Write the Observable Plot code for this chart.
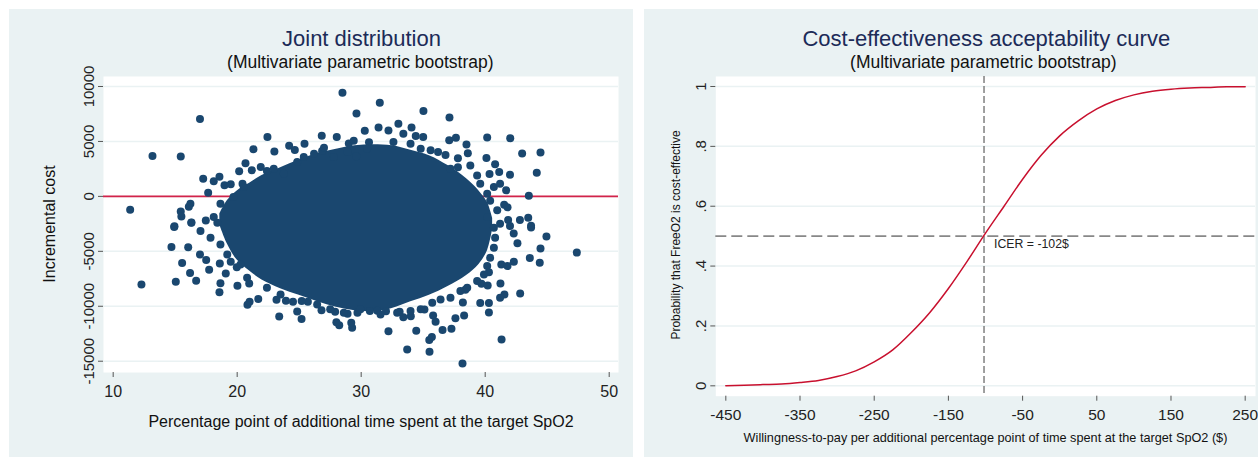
<!DOCTYPE html>
<html><head><meta charset="utf-8">
<script src="https://cdn.jsdelivr.net/npm/d3@7"></script>
<script src="https://cdn.jsdelivr.net/npm/@observablehq/plot@0.6"></script>
<style>
html,body{margin:0;padding:0;background:#fff;overflow:hidden;width:1258px;height:459px;}
body{position:relative;font-family:"Liberation Sans",Arial,sans-serif;}
.panel{position:absolute;background:#eaf2f3;overflow:visible;}
.panel svg{position:absolute;left:0;top:0;overflow:visible;}
.t{position:absolute;white-space:nowrap;transform:translate(-50%,-50%);line-height:1;}
.r{transform:translate(-50%,-50%) rotate(-90deg);}
</style></head>
<body>
<div id="pl" class="panel" style="left:9px;top:9px;width:624px;height:448px;"></div>
<div id="pr" class="panel" style="left:644px;top:9px;width:614px;height:448px;"></div>

<div class="t" style="left:361.5px;top:38.7px;font-size:22px;color:#1c2b58;">Joint distribution</div>
<div class="t" style="left:360.3px;top:62.5px;font-size:17.5px;color:#111;">(Multivariate parametric bootstrap)</div>
<div class="t" style="left:361px;top:422px;font-size:16px;color:#111;">Percentage point of additional time spent at the target SpO2</div>
<div class="t r" style="left:50px;top:224px;font-size:16px;color:#111;">Incremental cost</div>

<div class="t" style="left:986.3px;top:38.5px;font-size:22px;color:#1c2b58;">Cost-effectiveness acceptability curve</div>
<div class="t" style="left:983.3px;top:62.5px;font-size:17.5px;color:#111;">(Multivariate parametric bootstrap)</div>
<div class="t" style="left:985.5px;top:438px;font-size:12.7px;color:#111;">Willingness-to-pay per additional percentage point of time spent at the target SpO2 ($)</div>
<div class="t r" style="left:676px;top:235px;font-size:12px;color:#111;">Probability that FreeO2 is cost-effective</div>

<script>
// ---------- Left panel data: bootstrap replicates ----------
const xTicksL = [10, 20, 30, 40, 50];
const yTicksL = [10000, 5000, 0, -5000, -10000, -15000];
// dense core of the cloud: lower/upper envelope by effect
const coreX    = [18.6, 19.2, 20.0, 21.0, 22.0, 23.5, 25.0, 26.5, 28.0, 29.5, 31.0, 32.5, 34.0, 35.5, 37.0, 38.5, 39.5, 40.2, 40.6];
const coreHigh = [-1600, -400, 500, 1200, 1900, 2600, 3300, 3900, 4300, 4600, 4700, 4600, 4200, 3700, 2800, 1600, 500, -600, -2000];
const coreLow  = [-2600, -4300, -5800, -6800, -7600, -8400, -9000, -9600, -10100, -10400, -10500, -10200, -9600, -9000, -8200, -7200, -6200, -4900, -3000];
// individually visible replicates
const ptsX = [28.49,29.62,17.0,13.17,15.45,11.37,22.44,21.31,23.0,26.82,28.03,24.19,25.43,24.65,20.67,20.16,21.18,17.26,18.57,18.11,18.98,19.48,20.43,17.66,16.23,16.1,15.45,15.5,16.31,14.94,17.47,26.85,27.0,29.0,29.4,29.6,
  31.5,35.02,37.12,40.16,42.02,42.98,44.46,44.16,43.52,42.0,37.64,37.1,38.49,33.0,34.06,30.29,31.4,32.2,40.8,40.1,38.6,37.8,36.8,41.13,40.35,41.69,41.53,41.8,41.85,42.8,43.47,43.7,35.0,34.4,
  12.28,15.05,16.69,16.2,15.56,14.7,14.92,16.3,17.74,19.08,18.65,18.57,20.02,20.83,21.0,23.39,25.19,24.84,28.23,28.0,29.27,29.2,16.05,17.0,17.5,18.6,19.48,19.97,20.97,21.7,23.17,23.93,24.5,25.7,26.8,27.9,28.9,
  47.39,44.46,44.94,43.7,44.4,43.6,42.6,42.31,42.82,41.23,41.55,41.2,40.3,41.32,38.17,35.51,33.71,35.49,35.7,32.2,34.44,36.56,37.28,38.3,38.2,37.6,35.8,36.0,40.3,39.6,39.7,40.2,41.3,41.8,40.3,38.4,35.1,34.0,33.4,33.1,32.0,31.3,42.0,42.3,
  30.63,30.48,32.6,33.4,33.98,34.8,35.6,36.2,37.2,37.8,38.8,39.35,39.6,40.16,40.7,41.2,40.4,40.97,40.16,41.2,
  21.9,22.4,22.95,23.76,24.84,25.37,26.2,27.8,28.9,20.53,19.7,18.65,18.11,18.4,
  17.04,17.85,18.65,19.2,20.27,20.8,22.4,23.5,25.2,26.45,27.5,28.6,29.7,
  29.94,30.7,31.56,32.9,33.98,34.8,35.73,36.4,37.2,38.0,38.55,39.35,39.9,40.16,40.4,40.7,40.8,40.7];
const ptsY = [9442,7550,7038,3683,3620,-1225,5393,4296,4076,5511,5393,4597,4780,4232,3016,2285,2376,1609,1791,1371,1005,1097,1152,329,-676,-950,-1371,-1828,-2376,-2715,-2194,4140,4420,4808,5058,3650,
  8527,7769,7184,5356,5301,3894,3985,2157,55,1974,5329,5100,4716,6608,6270,5968,6270,6000,2925,3500,3930,3480,3770,2221,2040,548,-768,-1000,-2139,-2139,-1956,-2670,5400,5500,
  -8016,-7769,-7678,-6983,-6069,-4607,-2779,-2400,-6673,-7010,-7897,-8720,-8135,-9871,-9600,-10941,-11151,-10484,-11736,-11450,-11946,-11500,-4634,-5300,-5800,-6100,-5940,-6460,-7924,-9350,-9400,-9490,-9600,-9600,-10360,-10500,-10670,
  -5118,-4753,-3656,-2833,-6032,-5600,-4268,-5941,-8838,-7924,-8930,-9230,-10575,-13015,-15209,-14139,-13929,-13070,-12800,-12284,-12220,-12156,-12037,-10849,-9650,-11100,-10850,-11400,-9700,-9700,-7950,-8100,-6200,-6340,-6900,-8500,-10300,-10900,-11000,-10500,-10450,-10400,-2700,-3380,
  4932,4330,4940,5700,4790,4330,4190,4050,2510,2650,2820,1910,1150,240,850,1150,-400,-1270,-1880,-2490,
  2670,2300,2510,2060,3120,3580,3890,3580,4040,850,-60,-670,-1880,-2400,
  -3160,-3770,-4370,-5280,-6190,-7410,-8320,-8920,-9530,-9830,-10280,-10590,-10590,
  -10280,-10430,-10740,-10590,-10440,-10280,-9680,-9380,-9230,-8620,-8320,-7710,-7100,-6340,-5590,-4680,-3770,-2860];

// ---------- Right panel data: CEAC ----------
const wtp  = [-450,-425,-400,-375,-350,-325,-300,-275,-250,-225,-200,-175,-150,-125,-100,-75,-50,-25,0,25,50,75,100,125,150,175,200,225,250];
const prob = [0.000,0.002,0.004,0.006,0.011,0.018,0.031,0.050,0.080,0.120,0.178,0.245,0.325,0.415,0.510,0.600,0.690,0.770,0.835,0.885,0.925,0.953,0.972,0.984,0.991,0.995,0.997,0.999,0.999];
const icer = -102;
const icerLabel = "ICER = -102$";
const xTicksR = [-450,-350,-250,-150,-50,50,150,250];
const yTicksR = [0, 0.2, 0.4, 0.6, 0.8, 1];
const yTickLabelsR = ["0", ".2", ".4", ".6", ".8", "1"];

const navy = "#1a476f";
const grid = "#eaf2f3";
const axisCol = "#555";
const font = '"Liberation Sans", Arial, sans-serif';

const core = coreX.map((x, i) => ({x, lo: coreLow[i], hi: coreHigh[i]}));
const pts = ptsX.map((x, i) => ({x, y: ptsY[i]}));

const left = Plot.plot({
  width: 624, height: 448,
  marginLeft: 94, marginRight: 15, marginTop: 67, marginBottom: 85,
  style: {background: "transparent", fontFamily: font, color: "#222", overflow: "visible"},
  x: {domain: [9.22, 50.75]},
  y: {domain: [-16028, 10910]},
  marks: [
    Plot.frame({fill: "white", stroke: "none"}),
    Plot.ruleY(yTicksL, {stroke: grid, strokeWidth: 1.5}),
    Plot.ruleY([0], {stroke: "#d2234a", strokeWidth: 1.6}),
    Plot.areaY(core, {x: "x", y1: "lo", y2: "hi", fill: navy, curve: "catmull-rom"}),
    Plot.dot(pts, {x: "x", y: "y", r: 4, fill: navy}),
    Plot.axisX({ticks: xTicksL, tickSize: 5, tickPadding: 8, fontSize: 16, label: null, stroke: axisCol, line: true, tickFormat: d => String(d)}),
    Plot.axisY({ticks: yTicksL, tickSize: 5, tickPadding: 5, tickRotate: -90, fontSize: 15, label: null, stroke: axisCol, line: true, tickFormat: d => String(d)})
  ]
});
document.getElementById("pl").appendChild(left);

const ceac = wtp.map((w, i) => ({w, p: prob[i]}));
const right = Plot.plot({
  width: 614, height: 448,
  marginLeft: 71.3, marginRight: 3, marginTop: 67, marginBottom: 61.3,
  style: {background: "transparent", fontFamily: font, color: "#222", overflow: "visible"},
  x: {domain: [-463.5, 263.9]},
  y: {domain: [-0.0347, 1.0334]},
  marks: [
    Plot.frame({fill: "white", stroke: "none"}),
    Plot.ruleY(yTicksR, {stroke: grid, strokeWidth: 1.5}),
    Plot.ruleY([0.5], {stroke: "#888", strokeWidth: 1.8, strokeDasharray: "11,5"}),
    Plot.ruleX([icer], {stroke: "#777", strokeWidth: 1.4, strokeDasharray: "7,3"}),
    Plot.line(ceac, {x: "w", y: "p", stroke: "#c8102e", strokeWidth: 1.5, curve: "monotone-x"}),
    Plot.text([icerLabel], {x: icer, y: 0.5, text: d => d, dx: 10, dy: 8, textAnchor: "start", fontSize: 12.3, fill: "#222"}),
    Plot.axisX({ticks: xTicksR, tickSize: 5, tickPadding: 8, fontSize: 15.5, label: null, stroke: axisCol, line: true, tickFormat: d => String(d)}),
    Plot.axisY({ticks: yTicksR, tickSize: 5, tickPadding: 5, tickRotate: -90, fontSize: 15, label: null, stroke: axisCol, line: true, tickFormat: d => yTickLabelsR[yTicksR.indexOf(d)]})
  ]
});
document.getElementById("pr").appendChild(right);
</script>
</body></html>
